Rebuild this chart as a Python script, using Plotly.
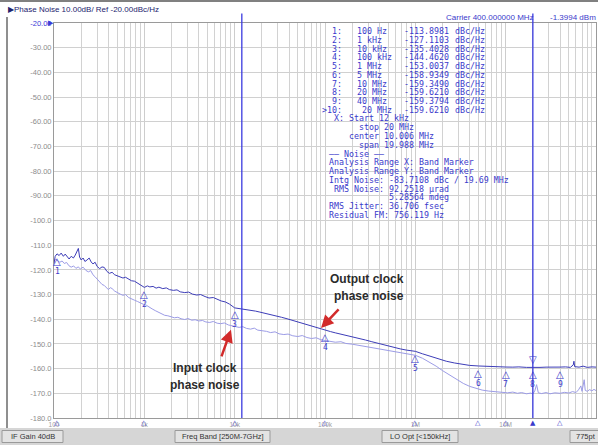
import math
import plotly.graph_objects as go

# ---------------- data ----------------
out_freq = [100, 103, 108, 114, 120, 127, 133, 140, 147, 155, 164, 172, 180, 186, 192, 200, 210, 220, 232, 245,
            258, 270, 285, 300, 320, 340, 360, 385, 410, 440, 470, 500, 540, 580, 620, 670, 720, 780, 840, 900,
            960, 1000, 1080, 1150, 1250, 1350, 1450, 1600, 1750, 1900, 2100, 2300, 2500, 2800, 3100, 3400, 3800,
            4200, 4700, 5200, 5800, 6400, 7100, 7900, 8800, 10000, 11000, 12000, 13500, 15000, 17000, 19000,
            22000, 25000, 29000, 33000, 38000, 44000, 50000, 58000, 67000, 77000, 88000, 100000, 115000, 130000,
            150000, 175000, 200000, 240000, 280000, 330000, 400000, 480000, 570000, 680000, 800000, 1000000,
            1200000, 1500000, 1800000, 2200000, 2700000, 3300000, 4000000, 5000000, 6000000, 7500000, 10000000,
            12000000, 14000000, 17000000, 20000000, 24000000, 28000000, 33000000, 40000000, 46000000, 52000000,
            56000000, 57000000, 58000000, 65000000, 72000000, 80000000, 90000000, 100000000]
out_pn = [-117.5, -114.5, -113.5, -114.2, -113.2, -114.5, -113.6, -114.8, -115.6, -114.5, -115.2, -114.0, -112.5,
          -111.3, -114.8, -116.0, -115.2, -116.6, -116.0, -115.2, -116.8, -117.6, -116.9, -118.6, -119.5, -118.8,
          -119.0, -120.6, -121.4, -121.0, -122.0, -122.3, -122.7, -123.3, -123.0, -123.9, -124.4, -124.6, -125.3,
          -126.2, -126.6, -127.1, -126.5, -126.9, -126.7, -127.4, -127.0, -127.6, -127.3, -128.0, -128.3, -128.1,
          -128.9, -129.2, -129.0, -129.8, -130.2, -130.0, -130.8, -131.4, -131.2, -132.0, -132.6, -133.0, -133.9,
          -135.4, -135.6, -135.8, -136.0, -136.4, -136.7, -137.1, -137.6, -138.0, -138.6, -139.2, -139.8, -140.5,
          -141.2, -142.0, -142.7, -143.4, -143.9, -144.46, -145.0, -145.5, -146.0, -146.6, -147.1, -147.8, -148.4,
          -149.1, -149.9, -150.7, -151.4, -152.0, -152.5, -153.0, -154.0, -155.2, -156.2, -157.0, -157.7, -158.3,
          -158.7, -158.93, -159.1, -159.25, -159.35, -159.4, -159.3, -159.5, -159.62, -159.5, -159.4, -159.5,
          -159.38, -159.3, -159.5, -158.5, -157.0, -159.2, -159.4, -159.0, -159.5, -159.3, -159.4]

in_freq = [100, 104, 110, 116, 123, 130, 138, 146, 155, 165, 175, 185, 196, 210, 225, 240, 255, 270, 285, 300,
           320, 340, 360, 380, 400, 420, 440, 470, 500, 540, 580, 620, 670, 720, 780, 840, 900, 970, 1050, 1130,
           1220, 1320, 1430, 1550, 1680, 1820, 1970, 2150, 2350, 2550, 2800, 3050, 3350, 3650, 4000, 4400, 4800,
           5300, 5800, 6400, 7000, 7700, 8500, 9300, 10200, 11200, 12300, 13500, 15000, 16500, 18000, 20000,
           22500, 25000, 28000, 31000, 35000, 39000, 44000, 50000, 56000, 63000, 71000, 80000, 90000, 100000,
           115000, 130000, 150000, 170000, 200000, 230000, 270000, 320000, 380000, 450000, 530000, 630000,
           750000, 880000, 1000000, 1200000, 1400000, 1700000, 2000000, 2400000, 2900000, 3400000, 4000000,
           4700000, 5500000, 6500000, 7500000, 9000000, 10500000, 12000000, 13500000, 15000000, 17000000,
           19000000, 20000000, 21000000, 22000000, 23000000, 25000000, 28000000, 31000000, 35000000, 40000000,
           45000000, 50000000, 55000000, 60000000, 64000000, 68000000, 70000000, 74000000, 76000000, 80000000,
           85000000, 90000000, 95000000, 100000000]
in_pn = [-116.5, -115.8, -116.3, -116.9, -116.4, -117.4, -117.0, -118.3, -118.9, -118.4, -119.4, -118.8, -119.6,
         -118.9, -120.2, -120.8, -120.3, -122.0, -122.8, -123.6, -124.6, -125.9, -126.3, -127.4, -128.0, -127.2,
         -127.6, -128.6, -129.0, -129.8, -130.3, -130.0, -131.2, -131.6, -132.3, -132.8, -133.4, -133.9, -134.3,
         -135.2, -135.8, -136.5, -137.2, -137.6, -138.4, -138.6, -139.1, -139.4, -139.2, -139.8, -140.1, -139.7,
         -140.4, -140.2, -140.7, -140.5, -141.1, -141.3, -140.9, -141.6, -141.8, -141.5, -142.3, -142.6, -142.8,
         -143.3, -143.0, -143.7, -144.0, -143.6, -144.4, -144.6, -144.9, -145.4, -145.1, -145.9, -146.2, -146.0,
         -146.7, -147.0, -146.6, -147.4, -147.8, -147.5, -148.3, -148.6, -148.9, -149.3, -149.1, -149.8, -150.1,
         -150.5, -150.9, -151.3, -151.8, -152.3, -152.8, -153.3, -153.8, -154.2, -154.6, -155.8, -157.2, -159.0,
         -160.8, -162.7, -164.6, -166.0, -167.2, -168.1, -168.7, -169.1, -169.4, -169.6, -169.8, -169.5, -170.0,
         -169.7, -170.2, -169.9, -170.3, -169.0, -166.5, -169.8, -170.1, -169.7, -170.2, -169.8, -170.0, -169.6,
         -169.9, -169.3, -169.7, -168.6, -167.0, -169.2, -164.5, -168.8, -169.2, -168.5, -169.0, -168.4, -168.9]

marker_ids = [1, 2, 3, 4, 5, 6, 7, 8, 9]
marker_freq = [100, 1e3, 1e4, 1e5, 1e6, 5e6, 1e7, 2e7, 4e7]
marker_freq_text = ["100 Hz", "1 kHz", "10 kHz", "100 kHz", "1 MHz", "5 MHz", "10 MHz", "20 MHz", "40 MHz"]
marker_pn = [-113.8981, -127.1103, -135.4028, -144.4620, -153.0037, -158.9349, -159.3490, -159.6210, -159.3794]
active_marker = 8

band_start = 12e3
band_stop = 20e6

y_tick_vals = [-20, -30, -40, -50, -60, -70, -80, -90, -100, -110, -120, -130, -140, -150, -160, -170, -180]
y_tick_text = ["-20.00", "-30.00", "-40.00", "-50.00", "-60.00", "-70.00", "-80.00", "-90.00", "-100.0",
               "-110.0", "-120.0", "-130.0", "-140.0", "-150.0", "-160.0", "-170.0", "-180.0"]
x_tick_vals = [1e2, 1e3, 1e4, 1e5, 1e6, 1e7, 1e8]
x_tick_text = ["100", "1k", "10k", "100k", "1M", "10M", "100M"]

info_lines = [
    " X: Start 12 kHz",
    "      stop 20 MHz",
    "    center 10.006 MHz",
    "      span 19.988 MHz",
    "\u2014\u2014 Noise \u2014\u2014",
    "Analysis Range X: Band Marker",
    "Analysis Range Y: Band Marker",
    "Intg Noise: -83.7108 dBc / 19.69 MHz",
    " RMS Noise: 92.2518 \u00b5rad",
    "            5.28564 mdeg",
    "RMS Jitter: 36.706 fsec",
    "Residual FM: 756.119 Hz",
]

title_text = "\u25b6Phase Noise 10.00dB/ Ref -20.00dBc/Hz"
carrier_text = "Carrier 400.000000 MHz"
power_text = "-1.3994 dBm"
status_items = ["IF Gain 40dB", "Freq Band [250M-7GHz]", "LO Opt [<150kHz]", "775pt"]

input_arrow = (9100, -144.3)
output_arrow = (90400, -143.5)

# ---------------- layout helpers ----------------
W, H = 598, 445
ML, MR, MT, MB = 54, 2, 23, 27
PW = W - ML - MR
PH = H - MT - MB


def fx(px):
    return (px - ML) / PW


def fy(py):
    return (H - MB - py) / PH


BLUE_TXT = "#3a3acb"
TRACE1 = "#3d3db8"
TRACE2 = "#9c9ce6"
MONO = "DejaVu Sans Mono"
SANS = "Liberation Sans"
TFS = 8.3

annotations = []


def note(**kw):
    kw.setdefault("showarrow", False)
    kw.setdefault("xanchor", "center")
    kw.setdefault("yanchor", "middle")
    annotations.append(kw)


fig = go.Figure()

fig.add_trace(go.Scatter(x=in_freq, y=in_pn, mode="lines", line=dict(color=TRACE2, width=1), hoverinfo="skip"))
fig.add_trace(go.Scatter(x=out_freq, y=out_pn, mode="lines", line=dict(color=TRACE1, width=1), hoverinfo="skip"))

for f in (band_start, band_stop):
    fig.add_trace(go.Scatter(x=[f, f], y=[y_tick_vals[-1], y_tick_vals[0]], mode="lines",
                             line=dict(color="#3b3be0", width=1.3), hoverinfo="skip"))

# band line flags above plot
for f in (band_start, band_stop):
    note(x=math.log10(f), y=y_tick_vals[0], xref="x", yref="y", text="",
         showarrow=True, ax=0, ay=-11, arrowhead=0, arrowwidth=1.3, arrowcolor="#3b3be0")

# markers on trace
for mid, f, v in zip(marker_ids, marker_freq, marker_pn):
    xs = 3 if mid == 1 else 0
    note(x=math.log10(f), y=v, xref="x", yref="y", text="\u25b3",
         font=dict(family="DejaVu Sans", size=10, color=BLUE_TXT), yshift=-7, xshift=xs)
    note(x=math.log10(f), y=v, xref="x", yref="y", text=str(mid),
         font=dict(family=MONO, size=8, color=BLUE_TXT), yshift=-17, xshift=xs)
    if mid == active_marker:
        note(x=math.log10(f), y=v, xref="x", yref="y", text="\u25bd",
             font=dict(family="DejaVu Sans", size=10, color=BLUE_TXT), yshift=8)
    # bottom marker indicators
    note(x=math.log10(f), y=fy(423), xref="x", yref="paper",
         text="\u25b2" if mid == active_marker else "\u25b3",
         font=dict(family="DejaVu Sans", size=7, color=BLUE_TXT), xshift=xs)

# reference level triangle
note(x=fx(56), y=y_tick_vals[0], xref="paper", yref="y", text="\u25b6", xanchor="right",
     font=dict(family="DejaVu Sans", size=7, color="#3a3ad8"))

# marker table
y0, dy = 31, 8.75
TF = dict(family=MONO, size=TFS, color=BLUE_TXT)
for i, (mid, ft, v) in enumerate(zip(marker_ids, marker_freq_text, marker_pn)):
    yy = fy(y0 + dy * i)
    note(x=fx(344), y=yy, xref="paper", yref="paper", text=f"{mid}:", xanchor="right", font=TF)
    note(x=fx(355), y=yy, xref="paper", yref="paper", text=ft, xanchor="left", font=TF)
    note(x=fx(402), y=yy, xref="paper", yref="paper", text=f"{v:.4f}", xanchor="left", font=TF)
    note(x=fx(453), y=yy, xref="paper", yref="paper", text="dBc/Hz", xanchor="left", font=TF)
# active marker line
ai = marker_ids.index(active_marker)
yy = fy(y0 + dy * 9)
note(x=fx(344), y=yy, xref="paper", yref="paper", text=f">{marker_ids[-1] + 1}:", xanchor="right", font=TF)
note(x=fx(360), y=yy, xref="paper", yref="paper", text=marker_freq_text[ai], xanchor="left", font=TF)
note(x=fx(402), y=yy, xref="paper", yref="paper", text=f"{marker_pn[ai]:.4f}", xanchor="left", font=TF)
note(x=fx(453), y=yy, xref="paper", yref="paper", text="dBc/Hz", xanchor="left", font=TF)
for j, line in enumerate(info_lines):
    note(x=fx(327), y=fy(y0 + dy * (10 + j)), xref="paper", yref="paper",
         text=line.replace(" ", "\u00a0"), xanchor="left", font=TF)

# header texts
note(x=fx(6), y=fy(9), xref="paper", yref="paper", text=title_text, xanchor="left",
     font=dict(family=SANS, size=8, color="#23236e"))
note(x=fx(536), y=fy(18), xref="paper", yref="paper", text=carrier_text, xanchor="right",
     font=dict(family=SANS, size=8, color=BLUE_TXT))
note(x=fx(548), y=fy(18), xref="paper", yref="paper", text=power_text, xanchor="left",
     font=dict(family=SANS, size=8, color=BLUE_TXT))

# callouts
CALL = dict(family="Liberation Sans", size=12, color="#2b2b2b")
note(x=fx(367), y=fy(279), xref="paper", yref="paper", text="<b>Output clock</b>", font=CALL)
note(x=fx(369), y=fy(296), xref="paper", yref="paper", text="<b>phase noise</b>", font=CALL)
note(x=fx(205), y=fy(368), xref="paper", yref="paper", text="<b>Input clock</b>", font=CALL)
note(x=fx(205), y=fy(385), xref="paper", yref="paper", text="<b>phase noise</b>", font=CALL)
note(x=math.log10(input_arrow[0]), y=input_arrow[1], xref="x", yref="y", text="",
     showarrow=True, ax=-10, ay=28, arrowhead=2, arrowsize=1, arrowwidth=2.5, arrowcolor="#d22b2b")
note(x=math.log10(output_arrow[0]), y=output_arrow[1], xref="x", yref="y", text="",
     showarrow=True, ax=19, ay=-20, arrowhead=2, arrowsize=1, arrowwidth=2.5, arrowcolor="#d22b2b")

# status bar
shapes = []
shapes.append(dict(type="rect", xref="paper", yref="paper", x0=fx(0), x1=fx(W), y0=fy(428), y1=fy(H),
                   fillcolor="#d6d6d6", line=dict(width=0), layer="below"))
boxes = [(2, 63), (175, 270), (382, 458), (570, 600)]
for (bx0, bx1), label in zip(boxes, status_items):
    shapes.append(dict(type="rect", xref="paper", yref="paper", x0=fx(bx0), x1=fx(bx1), y0=fy(430.5),
                       y1=fy(442.5), fillcolor="#e3e3e3", line=dict(color="#9a9a9a", width=1), layer="below"))
    if label == "775pt":
        note(x=fx(574), y=fy(436.5), xref="paper", yref="paper", text=label, xanchor="left",
             font=dict(family=SANS, size=7.5, color="#333333"))
    else:
        note(x=fx((bx0 + bx1) / 2), y=fy(436.5), xref="paper", yref="paper", text=label,
             font=dict(family=SANS, size=7.5, color="#333333"))
# frame lines
shapes.append(dict(type="line", xref="paper", yref="paper", x0=fx(7), x1=fx(7), y0=fy(17), y1=fy(428),
                   line=dict(color="#6a6a6a", width=1.5)))
shapes.append(dict(type="line", xref="paper", yref="paper", x0=fx(0), x1=fx(W), y0=fy(1), y1=fy(1),
                   line=dict(color="#808080", width=2)))

minor_vals = [m * 10 ** d for d in range(2, 8) for m in range(2, 10)]

y_tick_text_styled = ['<span style="color:#3a3ad8">' + y_tick_text[0] + '</span>'] + y_tick_text[1:]

fig.update_layout(
    width=W, height=H,
    margin=dict(l=ML, r=MR, t=MT, b=MB),
    paper_bgcolor="white", plot_bgcolor="white",
    showlegend=False,
    annotations=annotations,
    shapes=shapes,
    xaxis=dict(type="log", range=[2, 8], tickmode="array", tickvals=x_tick_vals, ticktext=x_tick_text,
               tickfont=dict(family=SANS, size=6.5, color="#a0a0a0"), ticks="", showgrid=True,
               gridcolor="#cdcdcd", gridwidth=1, showline=True, linecolor="#9a9a9a", mirror=True,
               zeroline=False,
               minor=dict(tickmode="array", tickvals=minor_vals, showgrid=True, gridcolor="#d2d2d2", ticks="")),
    yaxis=dict(range=[-180, -20], tickmode="array", tickvals=y_tick_vals, ticktext=y_tick_text_styled,
               tickfont=dict(family=SANS, size=7.5, color="#8c8c8c"), ticks="", showgrid=True,
               gridcolor="#d0d0d0", showline=True, linecolor="#9a9a9a", mirror=True, zeroline=False),
)

fig.write_html("out.html", config={"displayModeBar": False},
               post_script="document.body.style.margin='0';document.body.style.padding='0';"
                           "document.documentElement.style.overflow='hidden';")
